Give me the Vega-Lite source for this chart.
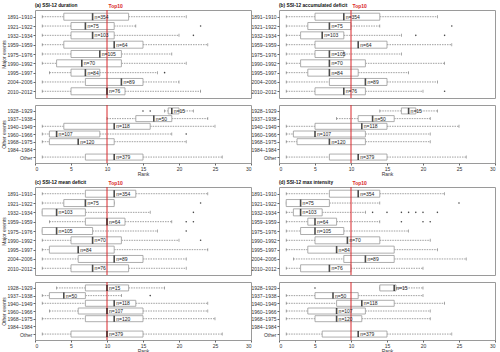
{
"$schema":"https://vega.github.io/schema/vega-lite/v6.json",
"padding":{"left":1,"top":2,"right":0,"bottom":0},
"datasets":{
"boxes":[
{"p":"a","g":"M","period":"1891–1910","lo":1,"q1":4,"med":8,"q3":13,"hi":21,"label":"n=354"},
{"p":"a","g":"M","period":"1921–1922","lo":1,"q1":5,"med":7,"q3":11,"hi":14,"label":"n=75"},
{"p":"a","g":"M","period":"1932–1934","lo":1,"q1":5,"med":8,"q3":11,"hi":20,"label":"n=103"},
{"p":"a","g":"M","period":"1959–1959","lo":1,"q1":4,"med":11,"q3":15,"hi":24,"label":"n=64"},
{"p":"a","g":"M","period":"1975–1976","lo":1,"q1":5,"med":9,"q3":12,"hi":19,"label":"n=105"},
{"p":"a","g":"M","period":"1990–1992","lo":1,"q1":3,"med":6.5,"q3":12,"hi":21,"label":"n=70"},
{"p":"a","g":"M","period":"1995–1997","lo":2,"q1":5,"med":7,"q3":9,"hi":17,"label":"n=84"},
{"p":"a","g":"M","period":"2004–2006","lo":1,"q1":7,"med":12,"q3":15,"hi":20,"label":"n=89"},
{"p":"a","g":"M","period":"2010–2012","lo":1,"q1":5,"med":10,"q3":12.5,"hi":23,"label":"n=76"},
{"p":"a","g":"O","period":"1928–1929","lo":18,"q1":18.5,"med":19,"q3":20,"hi":22,"label":"n=15"},
{"p":"a","g":"O","period":"1937–1938","lo":10,"q1":14,"med":16.5,"q3":19,"hi":24,"label":"n=50"},
{"p":"a","g":"O","period":"1940–1949","lo":1,"q1":4,"med":11,"q3":16,"hi":25,"label":"n=118"},
{"p":"a","g":"O","period":"1960–1966","lo":1,"q1":2,"med":3,"q3":9,"hi":19,"label":"n=107"},
{"p":"a","g":"O","period":"1968–1975","lo":1,"q1":2,"med":6,"q3":11,"hi":21,"label":"n=120"},
{"p":"a","g":"O","period":"Other","lo":1,"q1":7,"med":11,"q3":15,"hi":26,"label":"n=379"},
{"p":"b","g":"M","period":"1891–1910","lo":1,"q1":5,"med":9,"q3":14,"hi":22,"label":"n=354"},
{"p":"b","g":"M","period":"1921–1922","lo":1,"q1":4,"med":7,"q3":10,"hi":14,"label":"n=75"},
{"p":"b","g":"M","period":"1932–1934","lo":1,"q1":3,"med":6,"q3":9,"hi":17,"label":"n=103"},
{"p":"b","g":"M","period":"1959–1959","lo":1,"q1":5,"med":11,"q3":15,"hi":24,"label":"n=64"},
{"p":"b","g":"M","period":"1975–1976","lo":1,"q1":5,"med":7,"q3":9,"hi":17,"label":"n=105"},
{"p":"b","g":"M","period":"1990–1992","lo":1,"q1":3,"med":7,"q3":12,"hi":23,"label":"n=70"},
{"p":"b","g":"M","period":"1995–1997","lo":1,"q1":4,"med":7,"q3":11,"hi":18,"label":"n=84"},
{"p":"b","g":"M","period":"2004–2006","lo":1,"q1":7,"med":12,"q3":15,"hi":22,"label":"n=89"},
{"p":"b","g":"M","period":"2010–2012","lo":1,"q1":5,"med":9,"q3":12,"hi":20,"label":"n=76"},
{"p":"b","g":"O","period":"1928–1929","lo":14,"q1":17,"med":18,"q3":19,"hi":22,"label":"n=15"},
{"p":"b","g":"O","period":"1937–1938","lo":8,"q1":11,"med":13,"q3":16,"hi":21,"label":"n=50"},
{"p":"b","g":"O","period":"1940–1949","lo":1,"q1":5,"med":11.5,"q3":15,"hi":25,"label":"n=118"},
{"p":"b","g":"O","period":"1960–1966","lo":1,"q1":2,"med":5,"q3":12,"hi":21,"label":"n=107"},
{"p":"b","g":"O","period":"1968–1975","lo":1,"q1":2.5,"med":7,"q3":12,"hi":21,"label":"n=120"},
{"p":"b","g":"O","period":"Other","lo":1,"q1":7,"med":11,"q3":15,"hi":26,"label":"n=379"},
{"p":"c","g":"M","period":"1891–1910","lo":1,"q1":7,"med":11,"q3":14,"hi":24,"label":"n=354"},
{"p":"c","g":"M","period":"1921–1922","lo":1,"q1":4,"med":7,"q3":11,"hi":11,"label":"n=75"},
{"p":"c","g":"M","period":"1932–1934","lo":1,"q1":1,"med":3,"q3":7,"hi":16,"label":"n=103"},
{"p":"c","g":"M","period":"1959–1959","lo":2,"q1":7,"med":10,"q3":12.5,"hi":19,"label":"n=64"},
{"p":"c","g":"M","period":"1975–1976","lo":1,"q1":1,"med":3,"q3":8,"hi":17,"label":"n=105"},
{"p":"c","g":"M","period":"1990–1992","lo":1,"q1":5,"med":8,"q3":12,"hi":20,"label":"n=70"},
{"p":"c","g":"M","period":"1995–1997","lo":1,"q1":2,"med":6,"q3":11,"hi":24,"label":"n=84"},
{"p":"c","g":"M","period":"2004–2006","lo":1,"q1":6,"med":11,"q3":15,"hi":21,"label":"n=89"},
{"p":"c","g":"M","period":"2010–2012","lo":1,"q1":5,"med":8,"q3":13,"hi":21,"label":"n=76"},
{"p":"c","g":"O","period":"1928–1929","lo":3,"q1":7,"med":10,"q3":13,"hi":18,"label":"n=15"},
{"p":"c","g":"O","period":"1937–1938","lo":1,"q1":2,"med":4,"q3":7,"hi":12,"label":"n=50"},
{"p":"c","g":"O","period":"1940–1949","lo":1,"q1":7,"med":11,"q3":14,"hi":24,"label":"n=118"},
{"p":"c","g":"O","period":"1960–1966","lo":2,"q1":6,"med":10,"q3":15,"hi":24,"label":"n=107"},
{"p":"c","g":"O","period":"1968–1975","lo":1,"q1":7,"med":11,"q3":15,"hi":25,"label":"n=120"},
{"p":"c","g":"O","period":"Other","lo":1,"q1":5,"med":10,"q3":15,"hi":26,"label":"n=379"},
{"p":"d","g":"M","period":"1891–1910","lo":1,"q1":7,"med":11,"q3":14,"hi":23,"label":"n=354"},
{"p":"d","g":"M","period":"1921–1922","lo":1,"q1":1,"med":3,"q3":7,"hi":14,"label":"n=75"},
{"p":"d","g":"M","period":"1932–1934","lo":1,"q1":2,"med":3,"q3":6,"hi":12,"label":"n=103"},
{"p":"d","g":"M","period":"1959–1959","lo":1,"q1":4,"med":5,"q3":8,"hi":14,"label":"n=64"},
{"p":"d","g":"M","period":"1975–1976","lo":1,"q1":3,"med":5,"q3":9,"hi":18,"label":"n=105"},
{"p":"d","g":"M","period":"1990–1992","lo":1,"q1":5,"med":9.5,"q3":14,"hi":21,"label":"n=70"},
{"p":"d","g":"M","period":"1995–1997","lo":1,"q1":4,"med":8,"q3":16,"hi":22,"label":"n=84"},
{"p":"d","g":"M","period":"2004–2006","lo":2,"q1":9,"med":12,"q3":16,"hi":26,"label":"n=89"},
{"p":"d","g":"M","period":"2010–2012","lo":1,"q1":3,"med":7,"q3":10,"hi":20,"label":"n=76"},
{"p":"d","g":"O","period":"1928–1929","lo":14,"q1":14,"med":16,"q3":16.25,"hi":20,"label":"n=15"},
{"p":"d","g":"O","period":"1937–1938","lo":1,"q1":5,"med":7.5,"q3":11,"hi":20,"label":"n=50"},
{"p":"d","g":"O","period":"1940–1949","lo":1,"q1":8,"med":11.5,"q3":16,"hi":23,"label":"n=118"},
{"p":"d","g":"O","period":"1960–1966","lo":1,"q1":4,"med":8,"q3":12,"hi":21,"label":"n=107"},
{"p":"d","g":"O","period":"1968–1975","lo":1,"q1":5,"med":8,"q3":11.5,"hi":21,"label":"n=120"},
{"p":"d","g":"O","period":"Other","lo":1,"q1":6,"med":11,"q3":15,"hi":24,"label":"n=379"}
],
"outliers":[
{"p":"a","g":"M","period":"1921–1922","v":23},
{"p":"a","g":"M","period":"1932–1934","v":22},
{"p":"a","g":"M","period":"1995–1997","v":18},
{"p":"a","g":"O","period":"1928–1929","v":15},
{"p":"a","g":"O","period":"1928–1929","v":16},
{"p":"a","g":"O","period":"1960–1966","v":21},
{"p":"b","g":"M","period":"1921–1922","v":24},
{"p":"b","g":"M","period":"1932–1934","v":19},
{"p":"b","g":"M","period":"1932–1934","v":23},
{"p":"b","g":"M","period":"2010–2012","v":23},
{"p":"c","g":"M","period":"1921–1922","v":23},
{"p":"c","g":"M","period":"1932–1934","v":22},
{"p":"c","g":"M","period":"1959–1959","v":21},
{"p":"c","g":"M","period":"1959–1959","v":22},
{"p":"c","g":"M","period":"1975–1976","v":21},
{"p":"c","g":"M","period":"1990–1992","v":23},
{"p":"c","g":"O","period":"1937–1938","v":16},
{"p":"d","g":"M","period":"1921–1922","v":25},
{"p":"d","g":"M","period":"1932–1934","v":13},
{"p":"d","g":"M","period":"1932–1934","v":15},
{"p":"d","g":"M","period":"1932–1934","v":17},
{"p":"d","g":"M","period":"1932–1934","v":18},
{"p":"d","g":"M","period":"1932–1934","v":19},
{"p":"d","g":"M","period":"1932–1934","v":20},
{"p":"d","g":"M","period":"1932–1934","v":22},
{"p":"d","g":"M","period":"1959–1959","v":17},
{"p":"d","g":"M","period":"1959–1959","v":20},
{"p":"d","g":"M","period":"1959–1959","v":21},
{"p":"d","g":"O","period":"1928–1929","v":5}
],
"titles":[
{"p":"a","r":0,"period":"1891–1910","t":"(a) SSI-12 duration"},
{"p":"b","r":0,"period":"1891–1910","t":"(b) SSI-12 accumulated deficit"},
{"p":"c","r":0,"period":"1891–1910","t":"(c) SSI-12 mean deficit"},
{"p":"d","r":0,"period":"1891–1910","t":"(d) SSI-12 max intensity"}
]
},
"columns":2,
"align":"each",
"spacing":{"row":2,"column":-2},
"concat":[
{"spacing":5,"vconcat":[
{"width":216,"height":88,
"layer":[
{"data":{"name":"boxes"},"transform":[{"filter":"datum.p=='a' && datum.g=='M'"}],"mark":{"type":"rule","strokeDash":[1.5,1],"color":"#777","strokeWidth":0.7},"encoding":{"x":{"field":"lo","type":"quantitative","axis":null},"x2":{"field":"q1"},"y":{"field":"period","type":"nominal","title":"Major events"}}},
{"data":{"name":"boxes"},"transform":[{"filter":"datum.p=='a' && datum.g=='M'"}],"mark":{"type":"rule","strokeDash":[1.5,1],"color":"#777","strokeWidth":0.7},"encoding":{"x":{"field":"q3","type":"quantitative","axis":null},"x2":{"field":"hi"},"y":{"field":"period","type":"nominal","title":"Major events"}}},
{"data":{"name":"boxes"},"transform":[{"filter":"datum.p=='a' && datum.g=='M'"}],"mark":{"type":"tick","size":3,"thickness":0.7,"color":"#555"},"encoding":{"x":{"field":"lo","type":"quantitative","axis":null},"y":{"field":"period","type":"nominal","title":"Major events"}}},
{"data":{"name":"boxes"},"transform":[{"filter":"datum.p=='a' && datum.g=='M'"}],"mark":{"type":"tick","size":3,"thickness":0.7,"color":"#555"},"encoding":{"x":{"field":"hi","type":"quantitative","axis":null},"y":{"field":"period","type":"nominal","title":"Major events"}}},
{"data":{"name":"boxes"},"transform":[{"filter":"datum.p=='a' && datum.g=='M'"}],"mark":{"type":"bar","size":7,"fill":"white","stroke":"#999","strokeWidth":0.8},"encoding":{"x":{"field":"q1","type":"quantitative","scale":{"domain":[0,30],"nice":false,"zero":false},"axis":null},"x2":{"field":"q3"},"y":{"field":"period","type":"nominal","scale":{"type":"point","domain":["1891–1910","1921–1922","1932–1934","1959–1959","1975–1976","1990–1992","1995–1997","2004–2006","2010–2012"],"padding":0.72},"title":"Major events"}}},
{"data":{"values":[{"r":10}]},"mark":{"type":"rule","color":"#d9262b","strokeWidth":1},"encoding":{"x":{"field":"r","type":"quantitative","axis":null}}},
{"data":{"name":"boxes"},"transform":[{"filter":"datum.p=='a' && datum.g=='M'"}],"mark":{"type":"tick","size":7,"thickness":1.6,"color":"#000"},"encoding":{"x":{"field":"med","type":"quantitative","axis":null},"y":{"field":"period","type":"nominal","title":"Major events"}}},
{"data":{"name":"boxes"},"transform":[{"filter":"datum.p=='a' && datum.g=='M'"}],"mark":{"type":"text","align":"left","baseline":"middle","dx":2,"fontSize":5,"color":"#222"},"encoding":{"x":{"field":"med","type":"quantitative","axis":null},"y":{"field":"period","type":"nominal","title":"Major events"},"text":{"field":"label"}}},
{"data":{"name":"outliers"},"transform":[{"filter":"datum.p=='a' && datum.g=='M'"}],"mark":{"type":"circle","size":2.5,"color":"#444","opacity":1},"encoding":{"x":{"field":"v","type":"quantitative","axis":null},"y":{"field":"period","type":"nominal","title":"Major events"}}},
{"data":{"values":[{"r":10,"period":"1891–1910","t":"Top10"}]},"mark":{"type":"text","dy":-11,"dx":1.5,"align":"left","fontSize":5,"fontWeight":"bold","color":"#d9262b","baseline":"middle"},"encoding":{"x":{"field":"r","type":"quantitative","axis":null},"y":{"field":"period","type":"nominal","title":"Major events"},"text":{"field":"t"}}},
{"data":{"name":"titles"},"transform":[{"filter":"datum.p=='a'"}],"mark":{"type":"text","dy":-11,"fontSize":4.8,"fontWeight":"bold","color":"#111","align":"left","baseline":"middle"},"encoding":{"x":{"field":"r","type":"quantitative","axis":null},"y":{"field":"period","type":"nominal","title":"Major events"},"text":{"field":"t"}}}
]},
{"width":216,"height":58,
"layer":[
{"data":{"name":"boxes"},"transform":[{"filter":"datum.p=='a' && datum.g=='O'"}],"mark":{"type":"rule","strokeDash":[1.5,1],"color":"#777","strokeWidth":0.7},"encoding":{"x":{"field":"lo","type":"quantitative","title":"Rank","axis":{"values":[0,5,10,15,20,25,30]}},"x2":{"field":"q1"},"y":{"field":"period","type":"nominal","title":"Other events"}}},
{"data":{"name":"boxes"},"transform":[{"filter":"datum.p=='a' && datum.g=='O'"}],"mark":{"type":"rule","strokeDash":[1.5,1],"color":"#777","strokeWidth":0.7},"encoding":{"x":{"field":"q3","type":"quantitative","title":"Rank","axis":{"values":[0,5,10,15,20,25,30]}},"x2":{"field":"hi"},"y":{"field":"period","type":"nominal","title":"Other events"}}},
{"data":{"name":"boxes"},"transform":[{"filter":"datum.p=='a' && datum.g=='O'"}],"mark":{"type":"tick","size":3,"thickness":0.7,"color":"#555"},"encoding":{"x":{"field":"lo","type":"quantitative","title":"Rank","axis":{"values":[0,5,10,15,20,25,30]}},"y":{"field":"period","type":"nominal","title":"Other events"}}},
{"data":{"name":"boxes"},"transform":[{"filter":"datum.p=='a' && datum.g=='O'"}],"mark":{"type":"tick","size":3,"thickness":0.7,"color":"#555"},"encoding":{"x":{"field":"hi","type":"quantitative","title":"Rank","axis":{"values":[0,5,10,15,20,25,30]}},"y":{"field":"period","type":"nominal","title":"Other events"}}},
{"data":{"name":"boxes"},"transform":[{"filter":"datum.p=='a' && datum.g=='O'"}],"mark":{"type":"bar","size":6,"fill":"white","stroke":"#999","strokeWidth":0.8},"encoding":{"x":{"field":"q1","type":"quantitative","scale":{"domain":[0,30],"nice":false,"zero":false},"axis":{"values":[0,5,10,15,20,25,30]},"title":"Rank"},"x2":{"field":"q3"},"y":{"field":"period","type":"nominal","scale":{"type":"point","domain":["1928–1929","1937–1938","1940–1949","1960–1966","1968–1975","1984–1984","Other"],"padding":0.77},"title":"Other events"}}},
{"data":{"values":[{"r":10}]},"mark":{"type":"rule","color":"#d9262b","strokeWidth":1},"encoding":{"x":{"field":"r","type":"quantitative","title":"Rank","axis":{"values":[0,5,10,15,20,25,30]}}}},
{"data":{"name":"boxes"},"transform":[{"filter":"datum.p=='a' && datum.g=='O'"}],"mark":{"type":"tick","size":6,"thickness":1.6,"color":"#000"},"encoding":{"x":{"field":"med","type":"quantitative","title":"Rank","axis":{"values":[0,5,10,15,20,25,30]}},"y":{"field":"period","type":"nominal","title":"Other events"}}},
{"data":{"name":"boxes"},"transform":[{"filter":"datum.p=='a' && datum.g=='O'"}],"mark":{"type":"text","align":"left","baseline":"middle","dx":2,"fontSize":5,"color":"#222"},"encoding":{"x":{"field":"med","type":"quantitative","title":"Rank","axis":{"values":[0,5,10,15,20,25,30]}},"y":{"field":"period","type":"nominal","title":"Other events"},"text":{"field":"label"}}},
{"data":{"name":"outliers"},"transform":[{"filter":"datum.p=='a' && datum.g=='O'"}],"mark":{"type":"circle","size":2.5,"color":"#444","opacity":1},"encoding":{"x":{"field":"v","type":"quantitative","title":"Rank","axis":{"values":[0,5,10,15,20,25,30]}},"y":{"field":"period","type":"nominal","title":"Other events"}}}
]}
]},
{"spacing":5,"vconcat":[
{"width":216,"height":88,
"layer":[
{"data":{"name":"boxes"},"transform":[{"filter":"datum.p=='b' && datum.g=='M'"}],"mark":{"type":"rule","strokeDash":[1.5,1],"color":"#777","strokeWidth":0.7},"encoding":{"x":{"field":"lo","type":"quantitative","axis":null},"x2":{"field":"q1"},"y":{"field":"period","type":"nominal","title":null}}},
{"data":{"name":"boxes"},"transform":[{"filter":"datum.p=='b' && datum.g=='M'"}],"mark":{"type":"rule","strokeDash":[1.5,1],"color":"#777","strokeWidth":0.7},"encoding":{"x":{"field":"q3","type":"quantitative","axis":null},"x2":{"field":"hi"},"y":{"field":"period","type":"nominal","title":null}}},
{"data":{"name":"boxes"},"transform":[{"filter":"datum.p=='b' && datum.g=='M'"}],"mark":{"type":"tick","size":3,"thickness":0.7,"color":"#555"},"encoding":{"x":{"field":"lo","type":"quantitative","axis":null},"y":{"field":"period","type":"nominal","title":null}}},
{"data":{"name":"boxes"},"transform":[{"filter":"datum.p=='b' && datum.g=='M'"}],"mark":{"type":"tick","size":3,"thickness":0.7,"color":"#555"},"encoding":{"x":{"field":"hi","type":"quantitative","axis":null},"y":{"field":"period","type":"nominal","title":null}}},
{"data":{"name":"boxes"},"transform":[{"filter":"datum.p=='b' && datum.g=='M'"}],"mark":{"type":"bar","size":7,"fill":"white","stroke":"#999","strokeWidth":0.8},"encoding":{"x":{"field":"q1","type":"quantitative","scale":{"domain":[0,30],"nice":false,"zero":false},"axis":null},"x2":{"field":"q3"},"y":{"field":"period","type":"nominal","scale":{"type":"point","domain":["1891–1910","1921–1922","1932–1934","1959–1959","1975–1976","1990–1992","1995–1997","2004–2006","2010–2012"],"padding":0.72},"title":null}}},
{"data":{"values":[{"r":10}]},"mark":{"type":"rule","color":"#d9262b","strokeWidth":1},"encoding":{"x":{"field":"r","type":"quantitative","axis":null}}},
{"data":{"name":"boxes"},"transform":[{"filter":"datum.p=='b' && datum.g=='M'"}],"mark":{"type":"tick","size":7,"thickness":1.6,"color":"#000"},"encoding":{"x":{"field":"med","type":"quantitative","axis":null},"y":{"field":"period","type":"nominal","title":null}}},
{"data":{"name":"boxes"},"transform":[{"filter":"datum.p=='b' && datum.g=='M'"}],"mark":{"type":"text","align":"left","baseline":"middle","dx":2,"fontSize":5,"color":"#222"},"encoding":{"x":{"field":"med","type":"quantitative","axis":null},"y":{"field":"period","type":"nominal","title":null},"text":{"field":"label"}}},
{"data":{"name":"outliers"},"transform":[{"filter":"datum.p=='b' && datum.g=='M'"}],"mark":{"type":"circle","size":2.5,"color":"#444","opacity":1},"encoding":{"x":{"field":"v","type":"quantitative","axis":null},"y":{"field":"period","type":"nominal","title":null}}},
{"data":{"values":[{"r":10,"period":"1891–1910","t":"Top10"}]},"mark":{"type":"text","dy":-11,"dx":1.5,"align":"left","fontSize":5,"fontWeight":"bold","color":"#d9262b","baseline":"middle"},"encoding":{"x":{"field":"r","type":"quantitative","axis":null},"y":{"field":"period","type":"nominal","title":null},"text":{"field":"t"}}},
{"data":{"name":"titles"},"transform":[{"filter":"datum.p=='b'"}],"mark":{"type":"text","dy":-11,"fontSize":4.8,"fontWeight":"bold","color":"#111","align":"left","baseline":"middle"},"encoding":{"x":{"field":"r","type":"quantitative","axis":null},"y":{"field":"period","type":"nominal","title":null},"text":{"field":"t"}}}
]},
{"width":216,"height":58,
"layer":[
{"data":{"name":"boxes"},"transform":[{"filter":"datum.p=='b' && datum.g=='O'"}],"mark":{"type":"rule","strokeDash":[1.5,1],"color":"#777","strokeWidth":0.7},"encoding":{"x":{"field":"lo","type":"quantitative","title":"Rank","axis":{"values":[0,5,10,15,20,25,30]}},"x2":{"field":"q1"},"y":{"field":"period","type":"nominal","title":null}}},
{"data":{"name":"boxes"},"transform":[{"filter":"datum.p=='b' && datum.g=='O'"}],"mark":{"type":"rule","strokeDash":[1.5,1],"color":"#777","strokeWidth":0.7},"encoding":{"x":{"field":"q3","type":"quantitative","title":"Rank","axis":{"values":[0,5,10,15,20,25,30]}},"x2":{"field":"hi"},"y":{"field":"period","type":"nominal","title":null}}},
{"data":{"name":"boxes"},"transform":[{"filter":"datum.p=='b' && datum.g=='O'"}],"mark":{"type":"tick","size":3,"thickness":0.7,"color":"#555"},"encoding":{"x":{"field":"lo","type":"quantitative","title":"Rank","axis":{"values":[0,5,10,15,20,25,30]}},"y":{"field":"period","type":"nominal","title":null}}},
{"data":{"name":"boxes"},"transform":[{"filter":"datum.p=='b' && datum.g=='O'"}],"mark":{"type":"tick","size":3,"thickness":0.7,"color":"#555"},"encoding":{"x":{"field":"hi","type":"quantitative","title":"Rank","axis":{"values":[0,5,10,15,20,25,30]}},"y":{"field":"period","type":"nominal","title":null}}},
{"data":{"name":"boxes"},"transform":[{"filter":"datum.p=='b' && datum.g=='O'"}],"mark":{"type":"bar","size":6,"fill":"white","stroke":"#999","strokeWidth":0.8},"encoding":{"x":{"field":"q1","type":"quantitative","scale":{"domain":[0,30],"nice":false,"zero":false},"axis":{"values":[0,5,10,15,20,25,30]},"title":"Rank"},"x2":{"field":"q3"},"y":{"field":"period","type":"nominal","scale":{"type":"point","domain":["1928–1929","1937–1938","1940–1949","1960–1966","1968–1975","1984–1984","Other"],"padding":0.77},"title":null}}},
{"data":{"values":[{"r":10}]},"mark":{"type":"rule","color":"#d9262b","strokeWidth":1},"encoding":{"x":{"field":"r","type":"quantitative","title":"Rank","axis":{"values":[0,5,10,15,20,25,30]}}}},
{"data":{"name":"boxes"},"transform":[{"filter":"datum.p=='b' && datum.g=='O'"}],"mark":{"type":"tick","size":6,"thickness":1.6,"color":"#000"},"encoding":{"x":{"field":"med","type":"quantitative","title":"Rank","axis":{"values":[0,5,10,15,20,25,30]}},"y":{"field":"period","type":"nominal","title":null}}},
{"data":{"name":"boxes"},"transform":[{"filter":"datum.p=='b' && datum.g=='O'"}],"mark":{"type":"text","align":"left","baseline":"middle","dx":2,"fontSize":5,"color":"#222"},"encoding":{"x":{"field":"med","type":"quantitative","title":"Rank","axis":{"values":[0,5,10,15,20,25,30]}},"y":{"field":"period","type":"nominal","title":null},"text":{"field":"label"}}},
{"data":{"name":"outliers"},"transform":[{"filter":"datum.p=='b' && datum.g=='O'"}],"mark":{"type":"circle","size":2.5,"color":"#444","opacity":1},"encoding":{"x":{"field":"v","type":"quantitative","title":"Rank","axis":{"values":[0,5,10,15,20,25,30]}},"y":{"field":"period","type":"nominal","title":null}}}
]}
]},
{"spacing":5,"vconcat":[
{"width":216,"height":88,
"layer":[
{"data":{"name":"boxes"},"transform":[{"filter":"datum.p=='c' && datum.g=='M'"}],"mark":{"type":"rule","strokeDash":[1.5,1],"color":"#777","strokeWidth":0.7},"encoding":{"x":{"field":"lo","type":"quantitative","axis":null},"x2":{"field":"q1"},"y":{"field":"period","type":"nominal","title":"Major events"}}},
{"data":{"name":"boxes"},"transform":[{"filter":"datum.p=='c' && datum.g=='M'"}],"mark":{"type":"rule","strokeDash":[1.5,1],"color":"#777","strokeWidth":0.7},"encoding":{"x":{"field":"q3","type":"quantitative","axis":null},"x2":{"field":"hi"},"y":{"field":"period","type":"nominal","title":"Major events"}}},
{"data":{"name":"boxes"},"transform":[{"filter":"datum.p=='c' && datum.g=='M'"}],"mark":{"type":"tick","size":3,"thickness":0.7,"color":"#555"},"encoding":{"x":{"field":"lo","type":"quantitative","axis":null},"y":{"field":"period","type":"nominal","title":"Major events"}}},
{"data":{"name":"boxes"},"transform":[{"filter":"datum.p=='c' && datum.g=='M'"}],"mark":{"type":"tick","size":3,"thickness":0.7,"color":"#555"},"encoding":{"x":{"field":"hi","type":"quantitative","axis":null},"y":{"field":"period","type":"nominal","title":"Major events"}}},
{"data":{"name":"boxes"},"transform":[{"filter":"datum.p=='c' && datum.g=='M'"}],"mark":{"type":"bar","size":7,"fill":"white","stroke":"#999","strokeWidth":0.8},"encoding":{"x":{"field":"q1","type":"quantitative","scale":{"domain":[0,30],"nice":false,"zero":false},"axis":null},"x2":{"field":"q3"},"y":{"field":"period","type":"nominal","scale":{"type":"point","domain":["1891–1910","1921–1922","1932–1934","1959–1959","1975–1976","1990–1992","1995–1997","2004–2006","2010–2012"],"padding":0.72},"title":"Major events"}}},
{"data":{"values":[{"r":10}]},"mark":{"type":"rule","color":"#d9262b","strokeWidth":1},"encoding":{"x":{"field":"r","type":"quantitative","axis":null}}},
{"data":{"name":"boxes"},"transform":[{"filter":"datum.p=='c' && datum.g=='M'"}],"mark":{"type":"tick","size":7,"thickness":1.6,"color":"#000"},"encoding":{"x":{"field":"med","type":"quantitative","axis":null},"y":{"field":"period","type":"nominal","title":"Major events"}}},
{"data":{"name":"boxes"},"transform":[{"filter":"datum.p=='c' && datum.g=='M'"}],"mark":{"type":"text","align":"left","baseline":"middle","dx":2,"fontSize":5,"color":"#222"},"encoding":{"x":{"field":"med","type":"quantitative","axis":null},"y":{"field":"period","type":"nominal","title":"Major events"},"text":{"field":"label"}}},
{"data":{"name":"outliers"},"transform":[{"filter":"datum.p=='c' && datum.g=='M'"}],"mark":{"type":"circle","size":2.5,"color":"#444","opacity":1},"encoding":{"x":{"field":"v","type":"quantitative","axis":null},"y":{"field":"period","type":"nominal","title":"Major events"}}},
{"data":{"values":[{"r":10,"period":"1891–1910","t":"Top10"}]},"mark":{"type":"text","dy":-11,"dx":1.5,"align":"left","fontSize":5,"fontWeight":"bold","color":"#d9262b","baseline":"middle"},"encoding":{"x":{"field":"r","type":"quantitative","axis":null},"y":{"field":"period","type":"nominal","title":"Major events"},"text":{"field":"t"}}},
{"data":{"name":"titles"},"transform":[{"filter":"datum.p=='c'"}],"mark":{"type":"text","dy":-11,"fontSize":4.8,"fontWeight":"bold","color":"#111","align":"left","baseline":"middle"},"encoding":{"x":{"field":"r","type":"quantitative","axis":null},"y":{"field":"period","type":"nominal","title":"Major events"},"text":{"field":"t"}}}
]},
{"width":216,"height":58,
"layer":[
{"data":{"name":"boxes"},"transform":[{"filter":"datum.p=='c' && datum.g=='O'"}],"mark":{"type":"rule","strokeDash":[1.5,1],"color":"#777","strokeWidth":0.7},"encoding":{"x":{"field":"lo","type":"quantitative","title":"Rank","axis":{"values":[0,5,10,15,20,25,30]}},"x2":{"field":"q1"},"y":{"field":"period","type":"nominal","title":"Other events"}}},
{"data":{"name":"boxes"},"transform":[{"filter":"datum.p=='c' && datum.g=='O'"}],"mark":{"type":"rule","strokeDash":[1.5,1],"color":"#777","strokeWidth":0.7},"encoding":{"x":{"field":"q3","type":"quantitative","title":"Rank","axis":{"values":[0,5,10,15,20,25,30]}},"x2":{"field":"hi"},"y":{"field":"period","type":"nominal","title":"Other events"}}},
{"data":{"name":"boxes"},"transform":[{"filter":"datum.p=='c' && datum.g=='O'"}],"mark":{"type":"tick","size":3,"thickness":0.7,"color":"#555"},"encoding":{"x":{"field":"lo","type":"quantitative","title":"Rank","axis":{"values":[0,5,10,15,20,25,30]}},"y":{"field":"period","type":"nominal","title":"Other events"}}},
{"data":{"name":"boxes"},"transform":[{"filter":"datum.p=='c' && datum.g=='O'"}],"mark":{"type":"tick","size":3,"thickness":0.7,"color":"#555"},"encoding":{"x":{"field":"hi","type":"quantitative","title":"Rank","axis":{"values":[0,5,10,15,20,25,30]}},"y":{"field":"period","type":"nominal","title":"Other events"}}},
{"data":{"name":"boxes"},"transform":[{"filter":"datum.p=='c' && datum.g=='O'"}],"mark":{"type":"bar","size":6,"fill":"white","stroke":"#999","strokeWidth":0.8},"encoding":{"x":{"field":"q1","type":"quantitative","scale":{"domain":[0,30],"nice":false,"zero":false},"axis":{"values":[0,5,10,15,20,25,30]},"title":"Rank"},"x2":{"field":"q3"},"y":{"field":"period","type":"nominal","scale":{"type":"point","domain":["1928–1929","1937–1938","1940–1949","1960–1966","1968–1975","1984–1984","Other"],"padding":0.77},"title":"Other events"}}},
{"data":{"values":[{"r":10}]},"mark":{"type":"rule","color":"#d9262b","strokeWidth":1},"encoding":{"x":{"field":"r","type":"quantitative","title":"Rank","axis":{"values":[0,5,10,15,20,25,30]}}}},
{"data":{"name":"boxes"},"transform":[{"filter":"datum.p=='c' && datum.g=='O'"}],"mark":{"type":"tick","size":6,"thickness":1.6,"color":"#000"},"encoding":{"x":{"field":"med","type":"quantitative","title":"Rank","axis":{"values":[0,5,10,15,20,25,30]}},"y":{"field":"period","type":"nominal","title":"Other events"}}},
{"data":{"name":"boxes"},"transform":[{"filter":"datum.p=='c' && datum.g=='O'"}],"mark":{"type":"text","align":"left","baseline":"middle","dx":2,"fontSize":5,"color":"#222"},"encoding":{"x":{"field":"med","type":"quantitative","title":"Rank","axis":{"values":[0,5,10,15,20,25,30]}},"y":{"field":"period","type":"nominal","title":"Other events"},"text":{"field":"label"}}},
{"data":{"name":"outliers"},"transform":[{"filter":"datum.p=='c' && datum.g=='O'"}],"mark":{"type":"circle","size":2.5,"color":"#444","opacity":1},"encoding":{"x":{"field":"v","type":"quantitative","title":"Rank","axis":{"values":[0,5,10,15,20,25,30]}},"y":{"field":"period","type":"nominal","title":"Other events"}}}
]}
]},
{"spacing":5,"vconcat":[
{"width":216,"height":88,
"layer":[
{"data":{"name":"boxes"},"transform":[{"filter":"datum.p=='d' && datum.g=='M'"}],"mark":{"type":"rule","strokeDash":[1.5,1],"color":"#777","strokeWidth":0.7},"encoding":{"x":{"field":"lo","type":"quantitative","axis":null},"x2":{"field":"q1"},"y":{"field":"period","type":"nominal","title":null}}},
{"data":{"name":"boxes"},"transform":[{"filter":"datum.p=='d' && datum.g=='M'"}],"mark":{"type":"rule","strokeDash":[1.5,1],"color":"#777","strokeWidth":0.7},"encoding":{"x":{"field":"q3","type":"quantitative","axis":null},"x2":{"field":"hi"},"y":{"field":"period","type":"nominal","title":null}}},
{"data":{"name":"boxes"},"transform":[{"filter":"datum.p=='d' && datum.g=='M'"}],"mark":{"type":"tick","size":3,"thickness":0.7,"color":"#555"},"encoding":{"x":{"field":"lo","type":"quantitative","axis":null},"y":{"field":"period","type":"nominal","title":null}}},
{"data":{"name":"boxes"},"transform":[{"filter":"datum.p=='d' && datum.g=='M'"}],"mark":{"type":"tick","size":3,"thickness":0.7,"color":"#555"},"encoding":{"x":{"field":"hi","type":"quantitative","axis":null},"y":{"field":"period","type":"nominal","title":null}}},
{"data":{"name":"boxes"},"transform":[{"filter":"datum.p=='d' && datum.g=='M'"}],"mark":{"type":"bar","size":7,"fill":"white","stroke":"#999","strokeWidth":0.8},"encoding":{"x":{"field":"q1","type":"quantitative","scale":{"domain":[0,30],"nice":false,"zero":false},"axis":null},"x2":{"field":"q3"},"y":{"field":"period","type":"nominal","scale":{"type":"point","domain":["1891–1910","1921–1922","1932–1934","1959–1959","1975–1976","1990–1992","1995–1997","2004–2006","2010–2012"],"padding":0.72},"title":null}}},
{"data":{"values":[{"r":10}]},"mark":{"type":"rule","color":"#d9262b","strokeWidth":1},"encoding":{"x":{"field":"r","type":"quantitative","axis":null}}},
{"data":{"name":"boxes"},"transform":[{"filter":"datum.p=='d' && datum.g=='M'"}],"mark":{"type":"tick","size":7,"thickness":1.6,"color":"#000"},"encoding":{"x":{"field":"med","type":"quantitative","axis":null},"y":{"field":"period","type":"nominal","title":null}}},
{"data":{"name":"boxes"},"transform":[{"filter":"datum.p=='d' && datum.g=='M'"}],"mark":{"type":"text","align":"left","baseline":"middle","dx":2,"fontSize":5,"color":"#222"},"encoding":{"x":{"field":"med","type":"quantitative","axis":null},"y":{"field":"period","type":"nominal","title":null},"text":{"field":"label"}}},
{"data":{"name":"outliers"},"transform":[{"filter":"datum.p=='d' && datum.g=='M'"}],"mark":{"type":"circle","size":2.5,"color":"#444","opacity":1},"encoding":{"x":{"field":"v","type":"quantitative","axis":null},"y":{"field":"period","type":"nominal","title":null}}},
{"data":{"values":[{"r":10,"period":"1891–1910","t":"Top10"}]},"mark":{"type":"text","dy":-11,"dx":1.5,"align":"left","fontSize":5,"fontWeight":"bold","color":"#d9262b","baseline":"middle"},"encoding":{"x":{"field":"r","type":"quantitative","axis":null},"y":{"field":"period","type":"nominal","title":null},"text":{"field":"t"}}},
{"data":{"name":"titles"},"transform":[{"filter":"datum.p=='d'"}],"mark":{"type":"text","dy":-11,"fontSize":4.8,"fontWeight":"bold","color":"#111","align":"left","baseline":"middle"},"encoding":{"x":{"field":"r","type":"quantitative","axis":null},"y":{"field":"period","type":"nominal","title":null},"text":{"field":"t"}}}
]},
{"width":216,"height":58,
"layer":[
{"data":{"name":"boxes"},"transform":[{"filter":"datum.p=='d' && datum.g=='O'"}],"mark":{"type":"rule","strokeDash":[1.5,1],"color":"#777","strokeWidth":0.7},"encoding":{"x":{"field":"lo","type":"quantitative","title":"Rank","axis":{"values":[0,5,10,15,20,25,30]}},"x2":{"field":"q1"},"y":{"field":"period","type":"nominal","title":null}}},
{"data":{"name":"boxes"},"transform":[{"filter":"datum.p=='d' && datum.g=='O'"}],"mark":{"type":"rule","strokeDash":[1.5,1],"color":"#777","strokeWidth":0.7},"encoding":{"x":{"field":"q3","type":"quantitative","title":"Rank","axis":{"values":[0,5,10,15,20,25,30]}},"x2":{"field":"hi"},"y":{"field":"period","type":"nominal","title":null}}},
{"data":{"name":"boxes"},"transform":[{"filter":"datum.p=='d' && datum.g=='O'"}],"mark":{"type":"tick","size":3,"thickness":0.7,"color":"#555"},"encoding":{"x":{"field":"lo","type":"quantitative","title":"Rank","axis":{"values":[0,5,10,15,20,25,30]}},"y":{"field":"period","type":"nominal","title":null}}},
{"data":{"name":"boxes"},"transform":[{"filter":"datum.p=='d' && datum.g=='O'"}],"mark":{"type":"tick","size":3,"thickness":0.7,"color":"#555"},"encoding":{"x":{"field":"hi","type":"quantitative","title":"Rank","axis":{"values":[0,5,10,15,20,25,30]}},"y":{"field":"period","type":"nominal","title":null}}},
{"data":{"name":"boxes"},"transform":[{"filter":"datum.p=='d' && datum.g=='O'"}],"mark":{"type":"bar","size":6,"fill":"white","stroke":"#999","strokeWidth":0.8},"encoding":{"x":{"field":"q1","type":"quantitative","scale":{"domain":[0,30],"nice":false,"zero":false},"axis":{"values":[0,5,10,15,20,25,30]},"title":"Rank"},"x2":{"field":"q3"},"y":{"field":"period","type":"nominal","scale":{"type":"point","domain":["1928–1929","1937–1938","1940–1949","1960–1966","1968–1975","1984–1984","Other"],"padding":0.77},"title":null}}},
{"data":{"values":[{"r":10}]},"mark":{"type":"rule","color":"#d9262b","strokeWidth":1},"encoding":{"x":{"field":"r","type":"quantitative","title":"Rank","axis":{"values":[0,5,10,15,20,25,30]}}}},
{"data":{"name":"boxes"},"transform":[{"filter":"datum.p=='d' && datum.g=='O'"}],"mark":{"type":"tick","size":6,"thickness":1.6,"color":"#000"},"encoding":{"x":{"field":"med","type":"quantitative","title":"Rank","axis":{"values":[0,5,10,15,20,25,30]}},"y":{"field":"period","type":"nominal","title":null}}},
{"data":{"name":"boxes"},"transform":[{"filter":"datum.p=='d' && datum.g=='O'"}],"mark":{"type":"text","align":"left","baseline":"middle","dx":2,"fontSize":5,"color":"#222"},"encoding":{"x":{"field":"med","type":"quantitative","title":"Rank","axis":{"values":[0,5,10,15,20,25,30]}},"y":{"field":"period","type":"nominal","title":null},"text":{"field":"label"}}},
{"data":{"name":"outliers"},"transform":[{"filter":"datum.p=='d' && datum.g=='O'"}],"mark":{"type":"circle","size":2.5,"color":"#444","opacity":1},"encoding":{"x":{"field":"v","type":"quantitative","title":"Rank","axis":{"values":[0,5,10,15,20,25,30]}},"y":{"field":"period","type":"nominal","title":null}}}
]}
]}
],
"config":{
"font":"Liberation Sans",
"view":{"stroke":"#9a9a9a","strokeWidth":1},
"axis":{"labelFont":"Liberation Sans","titleFont":"Liberation Sans","labelFontSize":5,"titleFontSize":5,"titleFontWeight":"normal","labelColor":"#333","titleColor":"#333","tickColor":"#666","tickSize":2,"labelPadding":1,"domain":false,"grid":false,"titlePadding":0,"labelOverlap":false}
}
}
